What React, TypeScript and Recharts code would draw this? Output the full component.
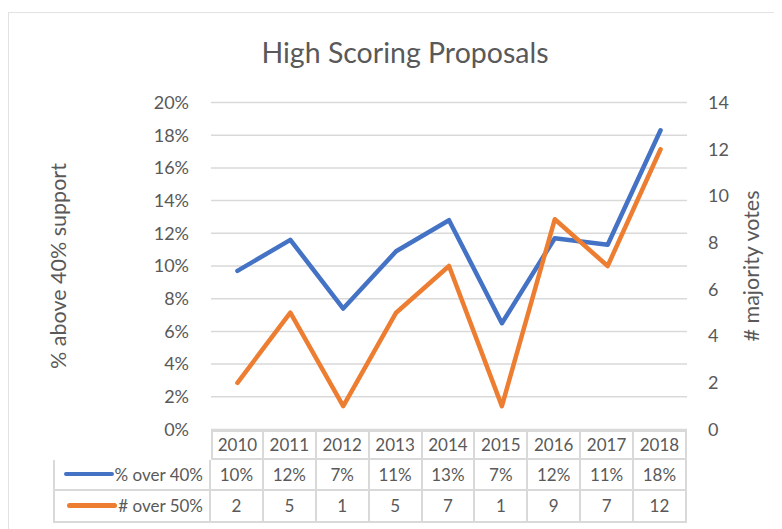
import React from 'react';
import { LineChart, Line, XAxis, YAxis, CartesianGrid } from 'recharts';

const years = ['2010', '2011', '2012', '2013', '2014', '2015', '2016', '2017', '2018'];
const pctOver40 = [0.097, 0.116, 0.074, 0.109, 0.128, 0.065, 0.117, 0.113, 0.183];
const pctOver40Labels = ['10%', '12%', '7%', '11%', '13%', '7%', '12%', '11%', '18%'];
const countOver50 = [2, 5, 1, 5, 7, 1, 9, 7, 12];
const leftTicks = [0, 0.02, 0.04, 0.06, 0.08, 0.1, 0.12, 0.14, 0.16, 0.18, 0.2];
const rightTicks = [0, 2, 4, 6, 8, 10, 12, 14];
const seriesNames = ['% over 40%', '# over 50%'];
const titleText = 'High Scoring Proposals';
const leftAxisTitle = '% above 40% support';
const rightAxisTitle = '# majority votes';

const data = years.map((y, i) => ({ year: y, pct: pctOver40[i], count: countOver50[i] }));

const FONT = 'Lato, "Open Sans", sans-serif';
const TEXT = '#595959';
const BLUE = '#4472C4';
const ORANGE = '#ED7D31';
const GRID = '#d9d9d9';

const W = 774;
const H = 517;
const PLOT_LEFT = 202;
const PLOT_RIGHT = 678;
const PLOT_TOP = 89.5;
const PLOT_BOTTOM = 416.5;
const COL_W = (PLOT_RIGHT - PLOT_LEFT) / years.length;

const LeftTitle = (props: any) => {
  const vb = props.viewBox || {};
  const cx = vb.x + 49;
  const cy = vb.y + vb.height / 2;
  return (
    <text x={cx} y={cy} transform={`rotate(-90 ${cx} ${cy})`} textAnchor="middle" dominantBaseline="central"
      fill={TEXT} fontSize={21.5} fontFamily={FONT}>{leftAxisTitle}</text>
  );
};

const RightTitle = (props: any) => {
  const vb = props.viewBox || {};
  const cx = vb.x + 64;
  const cy = vb.y + vb.height / 2;
  return (
    <text x={cx} y={cy} transform={`rotate(-90 ${cx} ${cy})`} textAnchor="middle" dominantBaseline="central"
      fill={TEXT} fontSize={21.5} fontFamily={FONT}>{rightAxisTitle}</text>
  );
};

const border = `2px solid ${GRID}`;

function Table() {
  const rowH = [30, 31, 32];
  const cellBase: React.CSSProperties = {
    boxSizing: 'border-box',
    display: 'flex',
    alignItems: 'center',
    justifyContent: 'center',
    fontFamily: FONT,
    fontSize: 17,
    color: TEXT,
    borderRight: border,
    borderBottom: border,
  };
  const rows = [
    { name: seriesNames[0], color: BLUE, values: pctOver40Labels },
    { name: seriesNames[1], color: ORANGE, values: countOver50.map(String) },
  ];
  return (
    <div
      style={{
        position: 'absolute',
        left: 44,
        top: PLOT_BOTTOM,
        display: 'grid',
        gridTemplateColumns: `${PLOT_LEFT - 44}px repeat(${years.length}, ${COL_W}px)`,
        gridTemplateRows: rowH.map((h) => `${h}px`).join(' '),
      }}
    >
      <div />
      {years.map((y, i) => (
        <div key={y} style={{ ...cellBase, borderTop: border, borderLeft: i === 0 ? border : undefined }}>{y}</div>
      ))}
      {rows.map((r) => (
        <React.Fragment key={r.name}>
          <div style={{ ...cellBase, borderLeft: border, justifyContent: 'flex-end', paddingRight: 6 }}>
            <span style={{ display: 'inline-block', width: 50, height: 4.5, borderRadius: 2.5, background: r.color, marginRight: 1 }} />
            <span>{r.name}</span>
          </div>
          {r.values.map((v, i) => (
            <div key={i} style={cellBase}>{v}</div>
          ))}
        </React.Fragment>
      ))}
    </div>
  );
}

export default function App() {
  return (
    <div
      style={{
        position: 'relative',
        marginTop: 4,
        width: W,
        height: H,
        boxSizing: 'border-box',
        borderTop: `1.5px solid #e2e2e2`,
        borderLeft: `1.5px solid #e2e2e2`,
        overflow: 'hidden',
        background: '#fff',
      }}
    >
      <div
        style={{
          position: 'absolute',
          left: 0,
          width: 792,
          top: 22,
          textAlign: 'center',
          fontFamily: FONT,
          fontSize: 28.5,
          color: TEXT,
          lineHeight: '34px',
        }}
      >
        {titleText}
      </div>
      <div style={{ position: 'absolute', left: 0, top: 0 }}>
        <LineChart width={W} height={H} data={data} margin={{ top: PLOT_TOP, right: 0, left: 0, bottom: H - PLOT_BOTTOM }}>
          <CartesianGrid vertical={false} stroke={GRID} strokeWidth={1.5} yAxisId="left" />
          <XAxis dataKey="year" hide padding={{ left: COL_W / 2, right: COL_W / 2 }} />
          <YAxis
            yAxisId="left"
            orientation="left"
            width={PLOT_LEFT}
            domain={[0, 0.2]}
            ticks={leftTicks}
            interval={0}
            axisLine={false}
            tickLine={false}
            tickMargin={16}
            tickFormatter={(v: number) => `${Math.round(v * 100)}%`}
            tick={{ fill: TEXT, fontSize: 18, fontFamily: FONT }}
            label={<LeftTitle />}
          />
          <YAxis
            yAxisId="right"
            orientation="right"
            width={W - PLOT_RIGHT}
            domain={[0, 14]}
            ticks={rightTicks}
            interval={0}
            axisLine={false}
            tickLine={false}
            tickMargin={15}
            tick={{ fill: TEXT, fontSize: 18, fontFamily: FONT, textAnchor: 'start' }}
            label={<RightTitle />}
          />
          <Line yAxisId="left" dataKey="pct" stroke={BLUE} strokeWidth={4.5} dot={false} isAnimationActive={false}
            strokeLinejoin="round" strokeLinecap="round" />
          <Line yAxisId="right" dataKey="count" stroke={ORANGE} strokeWidth={4.5} dot={false} isAnimationActive={false}
            strokeLinejoin="round" strokeLinecap="round" />
        </LineChart>
      </div>
      <Table />
    </div>
  );
}
